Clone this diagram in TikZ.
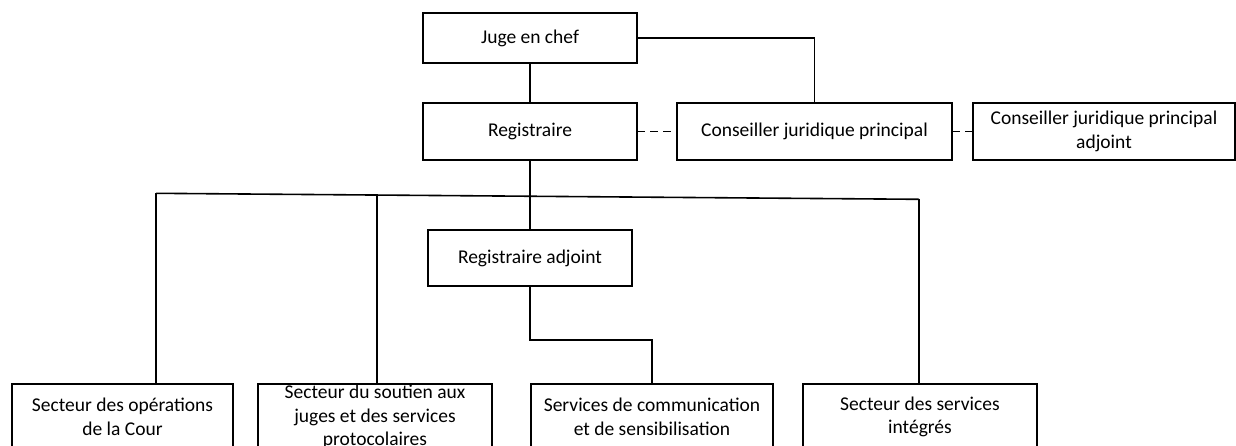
\documentclass[tikz,border=0pt]{standalone}
\usepackage{fontspec}
\setmainfont{Carlito}
\begin{document}
\begin{tikzpicture}[x=1pt,y=-1pt,
  box/.style={draw=black,line width=1.8pt,inner sep=0pt,outer sep=0pt,align=center,
    font=\fontsize{19.5}{23.5}\selectfont},
  link/.style={draw=black,line width=1.6pt},
  dlink/.style={link,dash pattern=on 8pt off 5pt}]
\useasboundingbox[fill=white] (0,0) rectangle (1236,445);
\node[box,minimum width=214pt,minimum height=50pt] (juge) at (530,38) {Juge en chef};
\node[box,minimum width=214pt,minimum height=57pt] (reg) at (530,131.5) {Registraire};
\node[box,minimum width=275pt,minimum height=57pt] (cjp) at (814.5,131.5) {Conseiller juridique principal};
\node[box,minimum width=262pt,minimum height=57pt] (cjpa) at (1104,131.5) {Conseiller juridique principal\\adjoint};
\node[box,minimum width=204pt,minimum height=56pt] (rega) at (530,258) {Registraire adjoint};
\node[box,minimum width=221pt,minimum height=66pt] (op) at (122.5,417) {Secteur des opérations\\de la Cour};
\node[box,minimum width=234pt,minimum height=66pt] (sout) at (375,417) {Secteur du soutien aux\\juges et des services\\protocolaires};
\node[box,minimum width=242pt,minimum height=66pt] (comm) at (652,417) {Services de communication\\et de sensibilisation};
\node[box,minimum width=234pt,minimum height=66pt] (integ) at (920,417) {Secteur des services\\intégrés};
\coordinate (L) at (156,193.3);
\coordinate (S) at (377,195);
\coordinate (R) at (919,199.3);
\coordinate (K) at (652,340);
\draw[link] (juge) -- (reg);
\draw[link] (juge.east) -| (cjp.north);
\draw[dlink] (reg.east) -- (cjp.west);
\draw[dlink] (cjp.east) -- (cjpa.west);
\draw[link] (L) -- (R);
\draw[link] (reg.south) -- (rega.north);
\draw[link] (L) -- (L |- op.north);
\draw[link] (S) -- (S |- sout.north);
\draw[link] (R) -- (R |- integ.north);
\draw[link] (rega.south) |- (K) -- (comm.north);
\end{tikzpicture}
\end{document}
